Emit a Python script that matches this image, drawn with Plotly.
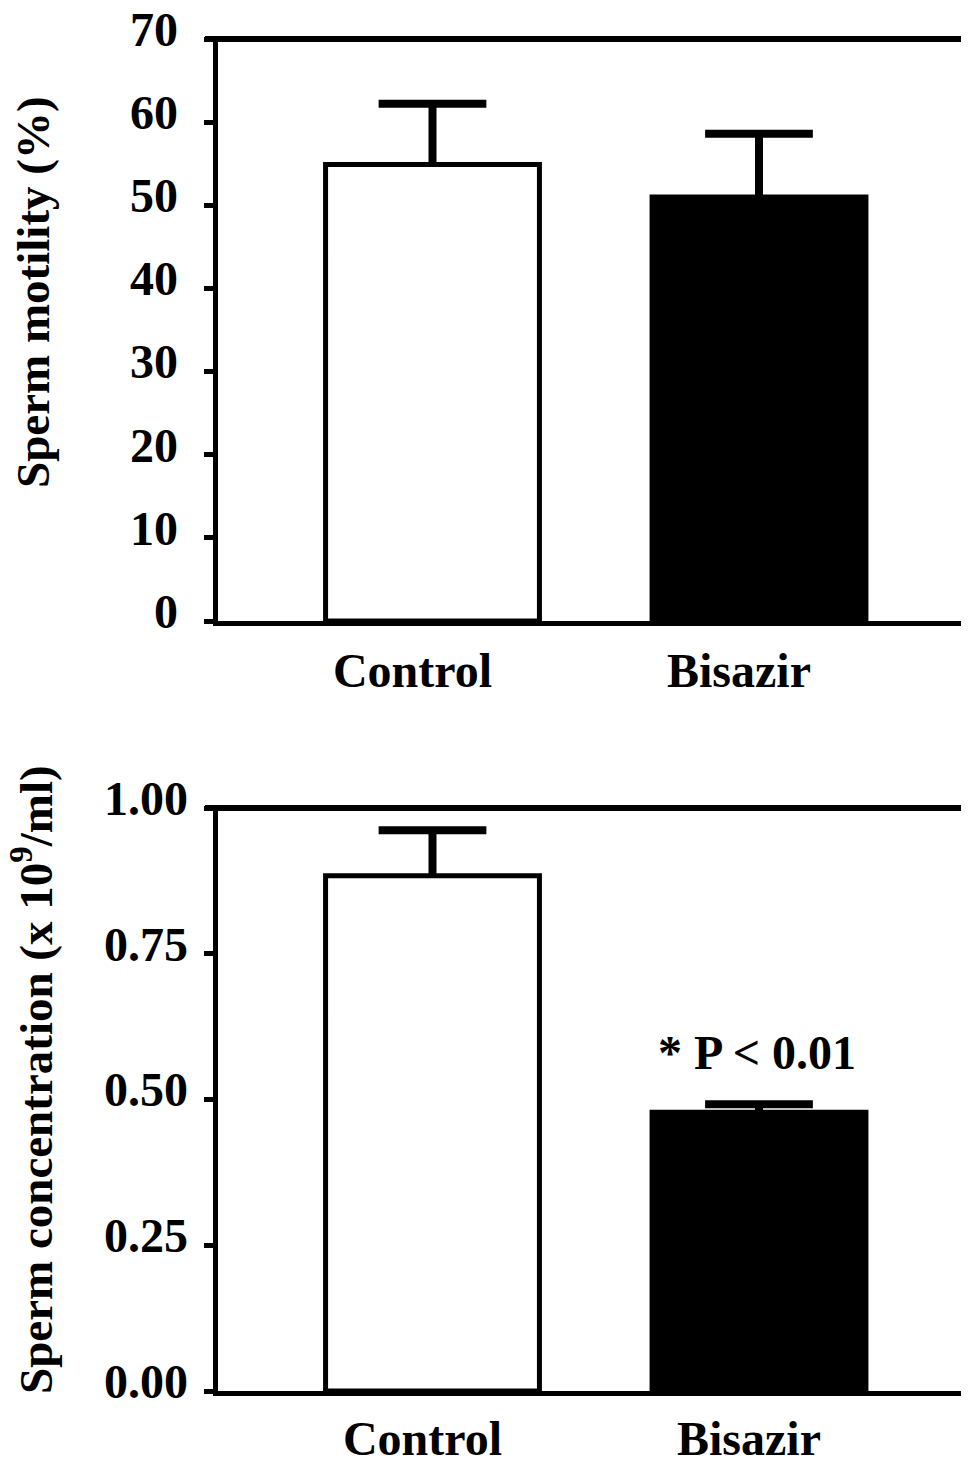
import plotly.graph_objects as go

groups = ["Control", "Bisazir"]
motility = [54.9, 51.0]
motility_err = [7.3, 7.6]
concentration = [0.884, 0.478]
concentration_err = [0.078, 0.014]
motility_ticks = [0, 10, 20, 30, 40, 50, 60, 70]
conc_ticks = [0.0, 0.25, 0.5, 0.75, 1.0]
conc_ticklabels = ["0.00", "0.25", "0.50", "0.75", "1.00"]
fills = ["white", "black"]

W, H = 969, 1462
FAM = "Liberation Serif"
CAP = 0.165  # half cap width in category units
OFF = 8      # page body margin

pos = list(range(len(groups)))
fig = go.Figure()

for i, (vals, errs) in enumerate([(motility, motility_err), (concentration, concentration_err)]):
    xa = "x" if i == 0 else "x2"
    ya = "y" if i == 0 else "y2"
    fig.add_trace(go.Bar(
        x=pos, y=vals, xaxis=xa, yaxis=ya, width=0.655,
        marker=dict(color=fills, line=dict(color="black", width=5)),
        showlegend=False, hoverinfo="skip",
    ))
    ex, ey = [], []
    for p, v, e in zip(pos, vals, errs):
        ex += [p, p, None, p - CAP, p + CAP, None]
        ey += [v, v + e, None, v + e, v + e, None]
    fig.add_trace(go.Scatter(x=ex, y=ey, xaxis=xa, yaxis=ya, mode="lines",
                             line=dict(color="black", width=8), showlegend=False,
                             hoverinfo="skip"))

left = 217.5 - OFF
xr = [-0.6585, 1.6677]
common_x = dict(range=xr, showline=True, linecolor="black", linewidth=5, mirror=False,
                ticks="", tickvals=pos, ticktext=groups, automargin=False,
                tickfont=dict(family=FAM, size=48, color="black", weight="bold"),
                ticklabeloverflow="allow", showgrid=False, zeroline=False)
common_y = dict(showline=True, linecolor="black", linewidth=5, ticks="outside", ticklen=9,
                tickwidth=5, tickcolor="black", showgrid=False, zeroline=False, automargin=False,
                ticklabelshift=-10, ticklabeloverflow="allow",
                tickfont=dict(family=FAM, size=48, color="black", weight="bold"))

fig.update_layout(
    width=W, height=H,
    margin=dict(l=0, r=0, t=0, b=0),
    plot_bgcolor="white", paper_bgcolor="white",
    font=dict(family=FAM, size=48, color="black"),
    xaxis=dict(domain=[left / W, 1], anchor="y", ticklabelshift=-20, ticklabelstandoff=3,
               **common_x),
    yaxis=dict(domain=[1 - (621 - OFF) / H, 1 - (39 - OFF) / H], anchor="x", range=[0, 70],
               tickvals=motility_ticks, ticklabelstandoff=16, **common_y),
    xaxis2=dict(domain=[left / W, 1], anchor="y2", ticklabelshift=-10, ticklabelstandoff=1,
                **common_x),
    yaxis2=dict(domain=[1 - (1391 - OFF) / H, 1 - (808 - OFF) / H], anchor="x2", range=[0, 1.0],
                tickvals=conc_ticks, ticktext=conc_ticklabels, ticklabelstandoff=6, **common_y),
)

# top frame lines
for yref in ["y domain", "y2 domain"]:
    fig.add_shape(type="line", xref="paper", yref=yref, x0=(205 - OFF) / W, x1=1, y0=1, y1=1,
                  line=dict(color="black", width=6))

fig.add_annotation(text="Sperm motility (%)", textangle=-90, xref="paper", yref="paper",
                   x=(33 - OFF) / W, y=1 - (292 - OFF) / H, xanchor="center", yanchor="middle",
                   showarrow=False, font=dict(family=FAM, size=47, weight="bold"))
fig.add_annotation(text="Sperm concentration (x 10<sup>9</sup>/ml)", textangle=-90,
                   xref="paper", yref="paper", x=(32 - OFF) / W, y=1 - (1080 - OFF) / H,
                   xanchor="center", yanchor="middle", showarrow=False,
                   font=dict(family=FAM, size=47, weight="bold"))
fig.add_annotation(text="* P < 0.01", xref="x2", yref="y2", x=pos[1], y=0.58, xshift=-2,
                   showarrow=False, font=dict(family=FAM, size=48, weight="bold"))

fig.write_html("out.html")
